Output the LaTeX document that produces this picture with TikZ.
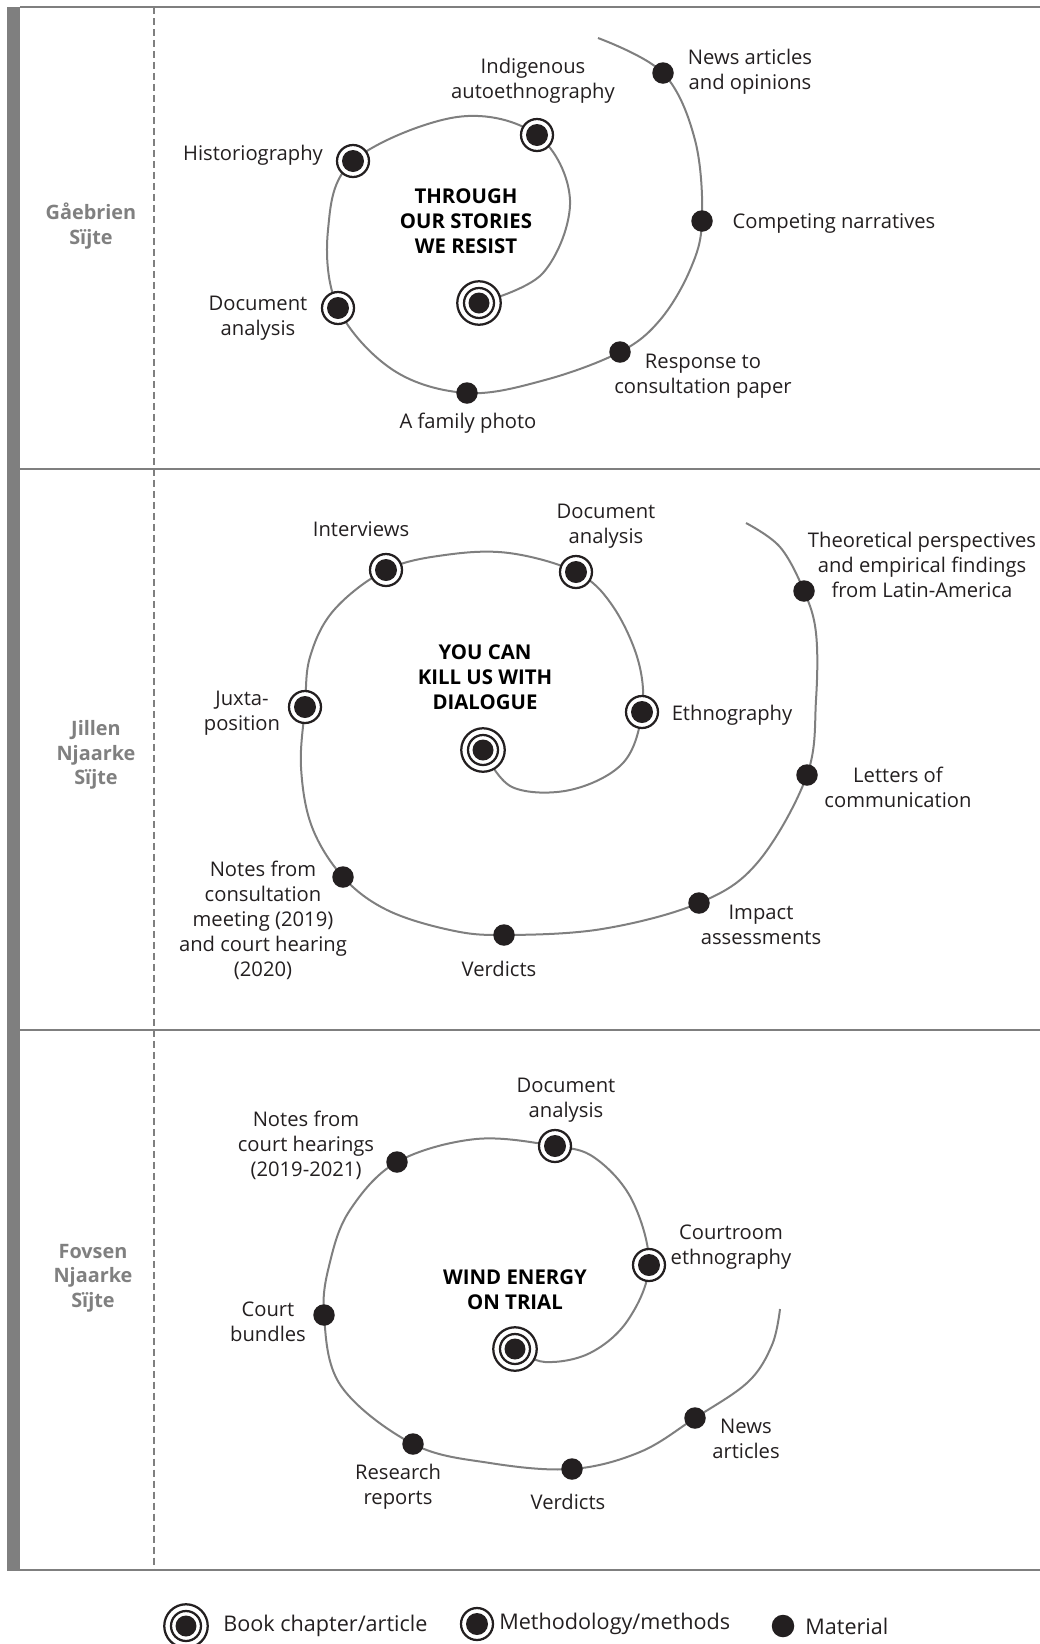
\documentclass[tikz,border=0pt]{standalone}
\usepackage{fontspec}
\setmainfont{Open Sans}
\usetikzlibrary{backgrounds}
\definecolor{ink}{HTML}{231F20}
\definecolor{rule}{HTML}{7F7F7F}
\definecolor{lane}{HTML}{808080}
\begin{document}
\begin{tikzpicture}[x=0.02cm,y=-0.02cm,
  txt/.style={align=center,text=ink,font=\fontsize{11.5}{14.2}\selectfont},
  keytxt/.style={anchor=west,inner sep=0pt,text=ink,font=\fontsize{12.3}{14.2}\selectfont},
  title/.style={align=center,text=black,font=\bfseries\fontsize{11.6}{14.2}\selectfont},
  lanelabel/.style={align=center,text=lane,font=\bfseries\fontsize{11.3}{14}\selectfont},
  spiral/.style={draw=rule,line width=0.04cm},
  book/.style={circle,draw=ink,fill=white,line width=0.045cm,minimum size=0.87cm,inner sep=0pt,
    path picture={\draw[ink,line width=0.045cm] (path picture bounding box.center) circle (0.3cm);
      \fill[ink] (path picture bounding box.center) circle (0.21cm);}},
  method/.style={circle,draw=ink,fill=white,line width=0.045cm,minimum size=0.64cm,inner sep=0pt,
    path picture={\fill[ink] (path picture bounding box.center) circle (0.22cm);}},
  material/.style={circle,fill=ink,minimum size=0.43cm,inner sep=0pt}]
\useasboundingbox (0,0) rectangle (1040,1644);

\fill[rule] (7,7) rectangle (20,1570);
\draw[rule,line width=0.04cm] (20,7) -- (1040,7);
\draw[rule,line width=0.04cm] (20,469) -- (1040,469);
\draw[rule,line width=0.04cm] (20,1030) -- (1040,1030);
\draw[rule,line width=0.04cm] (7,1570) -- (1040,1570);
\draw[rule,line width=0.035cm,dash pattern=on 0.14cm off 0.08cm] (154,7) -- (154,1570);

\begin{scope}
\node[book] (b1) at (479,303) {};
\node[method] (autoeth) at (537,135) {};
\node[method] (histo) at (353,161) {};
\node[method] (docan1) at (338,308) {};
\node[material] (photo) at (467,393) {};
\node[material] (consult) at (620,352) {};
\node[material] (compete) at (702,221) {};
\node[material] (news1) at (663,73) {};
\coordinate (e1) at (598,38);
\begin{scope}[on background layer]
\draw[spiral] plot[smooth,tension=0.6] coordinates {(b1.center) (543,273) (570,200) (autoeth.center) (457,117) (histo.center) (328,230) (docan1.center) (393,370) (photo.center) (545,380) (consult.center) (660,320) (690,270) (compete.center) (695,140) (news1.center) (e1)};
\end{scope}

\node[txt] at (533,81) {Indigenous\\autoethnography};
\node[txt] at (253,155) {Historiography};
\node[title] at (466,221) {THROUGH\\OUR STORIES\\WE RESIST};
\node[txt] at (258,318) {Document\\analysis};
\node[txt] at (468,423) {A family photo};
\node[txt] at (703,376) {Response to\\consultation paper};
\node[txt] at (834,224) {Competing narratives};
\node[txt] at (750,72) {News articles\\and opinions};
\node[lanelabel] at (91,226) {Gåebrien\\Sïjte};
\end{scope}

\begin{scope}
\node[book] (b2) at (483,750) {};
\node[method] (ethno2) at (642,712) {};
\node[method] (docan2) at (576,572) {};
\node[method] (interv) at (386,570) {};
\node[method] (juxta) at (305,707) {};
\node[material] (notes2) at (343,877) {};
\node[material] (verd2) at (504,935) {};
\node[material] (impact) at (699,903) {};
\node[material] (letters) at (807,775) {};
\node[material] (theory) at (804,591) {};
\coordinate (e2) at (746,523);
\begin{scope}[on background layer]
\draw[spiral] plot[smooth,tension=0.6] coordinates {(b2.center) (512,787) (570,790) (623,763) (ethno2.center) (638,660) (612,605) (docan2.center) (509,553) (445,555) (interv.center) (334,610) (310,657) (juxta.center) (301,767) (312,827) (notes2.center) (387,910) (450,930) (verd2.center) (602,929) (impact.center) (758,862) (letters.center) (816,700) (816,633) (theory.center) (780,547) (e2)};
\end{scope}

\node[txt] at (606,526) {Document\\analysis};
\node[txt] at (361,529) {Interviews};
\node[txt] at (922,565) {Theoretical perspectives\\and empirical findings\\from Latin-America};
\node[title] at (485,677) {YOU CAN\\KILL US WITH\\DIALOGUE};
\node[txt] at (732,715) {Ethnography};
\node[txt] at (242,713) {Juxta-\\position};
\node[txt] at (898,787) {Letters of\\communication};
\node[txt] at (263,920) {Notes from\\consultation\\meeting (2019)\\and court hearing\\(2020)};
\node[txt] at (499,969) {Verdicts};
\node[txt] at (761,925) {Impact\\assessments};
\node[lanelabel] at (96,755) {Jillen\\Njaarke\\Sïjte};
\end{scope}

\begin{scope}
\node[book] (b3) at (515,1349) {};
\node[method] (court3) at (649,1265) {};
\node[method] (docan3) at (555,1146) {};
\node[material] (notes3) at (397,1162) {};
\node[material] (bundles) at (324,1315) {};
\node[material] (reports) at (413,1444) {};
\node[material] (verd3) at (572,1469) {};
\node[material] (news3) at (695,1418) {};
\coordinate (e3) at (780,1309);
\begin{scope}[on background layer]
\draw[spiral] plot[smooth,tension=0.6] coordinates {(b3.center) (545,1362) (590,1353) (628,1320) (court3.center) (632,1200) (595,1158) (docan3.center) (476,1139) (notes3.center) (350,1210) (330,1262) (bundles.center) (341,1386) (reports.center) (490,1463) (verd3.center) (640,1452) (news3.center) (748,1382) (772,1345) (e3)};
\end{scope}

\node[txt] at (566,1100) {Document\\analysis};
\node[txt] at (306,1145) {Notes from\\court hearings\\(2019-2021)};
\node[txt] at (731,1247) {Courtroom\\ethnography};
\node[title] at (515,1290) {WIND ENERGY\\ON TRIAL};
\node[txt] at (268,1322) {Court\\bundles};
\node[txt] at (398,1487) {Research\\reports};
\node[txt] at (568,1502) {Verdicts};
\node[txt] at (746,1439) {News\\articles};
\node[lanelabel] at (93,1278) {Fovsen\\Njaarke\\Sïjte};
\end{scope}

\node[book] (keybook) at (186,1626) {};
\node[keytxt] at (223,1626) {Book chapter/article};
\node[method] (keymethod) at (477,1624) {};
\node[keytxt] at (499,1624) {Methodology/methods};
\node[material,minimum size=0.45cm] (keymaterial) at (783,1626) {};
\node[keytxt] at (805,1626) {Material};
\end{tikzpicture}
\end{document}
